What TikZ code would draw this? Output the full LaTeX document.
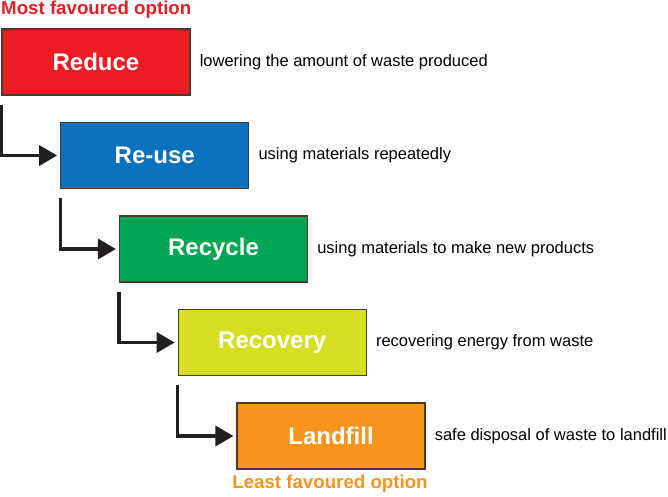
\documentclass[tikz,border=0pt]{standalone}
\usepackage{fontspec}
\setmainfont{Liberation Sans}
\usetikzlibrary{arrows.meta}
\definecolor{cRed}{HTML}{ED1C24}
\definecolor{cBlue}{HTML}{0872BE}
\definecolor{cGreen}{HTML}{00A651}
\definecolor{cYel}{HTML}{D7DF23}
\definecolor{cOrange}{HTML}{F7941D}
\definecolor{cBorder}{HTML}{4B3A2E}
\definecolor{cTitleRed}{HTML}{E31E24}
\definecolor{cLine}{HTML}{231F20}
\tikzset{
  wbox/.style={draw=cBorder, line width=1.1pt, minimum width=188pt, minimum height=66pt,
    inner sep=0pt, text=white, font=\fontsize{24}{28}\selectfont\bfseries},
  desc/.style={anchor=west, inner sep=0pt, font=\fontsize{16.5}{19}\selectfont, text=black},
  conn/.style={draw=cLine, line width=3.2pt, line join=miter, -{Triangle[length=18pt,width=20pt]}, shorten >=3pt},
  ttl/.style={inner sep=0pt, font=\fontsize{18.7}{22}\selectfont\bfseries}
}
\begin{document}
\begin{tikzpicture}[x=1pt,y=-1pt]
\useasboundingbox (0,0) rectangle (668,496);
\node[wbox, fill=cRed]    (r1) at (96,62)      {Reduce};
\node[wbox, fill=cBlue]   (r2) at (154.75,155.5) {Re-use};
\node[wbox, fill=cGreen]  (r3) at (213.5,249)  {Recycle};
\node[wbox, fill=cYel]    (r4) at (272.25,342.5) {Recovery};
\node[wbox, fill=cOrange] (r5) at (331,436)    {Landfill};
\node[desc] (d1) at ([xshift=9pt]r1.east) {lowering the amount of waste produced};
\node[desc] (d2) at ([xshift=9pt]r2.east) {using materials repeatedly};
\node[desc] (d3) at ([xshift=9pt]r3.east) {using materials to make new products};
\node[desc] (d4) at ([xshift=9pt]r4.east) {recovering energy from waste};
\node[desc] (d5) at ([xshift=9pt]r5.east) {safe disposal of waste to landfill};
\node[ttl, text=cTitleRed, anchor=base west] (t1) at (1,14.5) {Most favoured option};
\node[ttl, text=cOrange, anchor=base] (t2) at (330,488.5) {Least favoured option};
\coordinate (s1) at ([yshift=-9pt]r1.south west);
\coordinate (s2) at ([yshift=-9pt]r2.south west);
\coordinate (s3) at ([yshift=-9pt]r3.south west);
\coordinate (s4) at ([yshift=-9pt]r4.south west);
\draw[conn] (s1) |- (r2.west);
\draw[conn] (s2) |- (r3.west);
\draw[conn] (s3) |- (r4.west);
\draw[conn] (s4) |- (r5.west);
\end{tikzpicture}
\end{document}
